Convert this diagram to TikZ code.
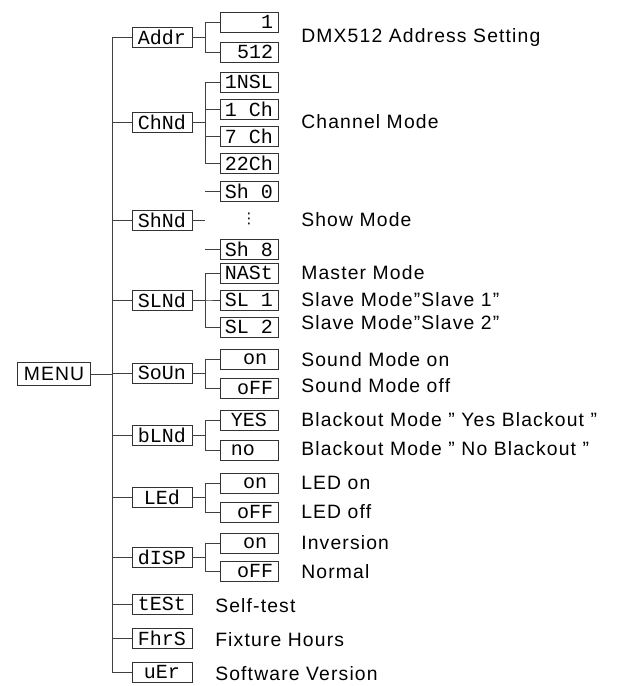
\documentclass[tikz,border=0pt]{standalone}
\usepackage{fontspec}
\setmainfont{Liberation Sans}[LetterSpace=6]
\newfontfamily\lcdfont{Liberation Mono}
\newfontfamily\symfont{DejaVu Sans}
\usepackage{tikz}

\begin{document}
\begin{tikzpicture}[x=0.75pt,y=-0.75pt,
  wire/.style={draw=black!75,line width=0.6pt},
  lcd/.style={draw=black!80,line width=0.6pt,minimum width=45pt,minimum height=15pt,
    inner sep=0pt,font=\lcdfont\fontsize{15}{15}\selectfont},
  sub/.style={lcd,minimum width=43.5pt},
  lbl/.style={anchor=west,inner sep=0pt,font=\fontsize{14.5}{16}\selectfont}]
  \useasboundingbox (0,0) rectangle (621,686);

  \node[draw=black!80,line width=0.6pt,minimum width=55pt,minimum height=17pt,inner sep=0pt,
    font=\fontsize{14.5}{16}\selectfont] (menu) at (54,374) {MENU};
  \coordinate (trunk) at (112,37);

  % main menu entries
  \node[lcd] (addr) at (162,37) {Addr};
  \node[lcd] (chnd) at (162,122) {ChNd};
  \node[lcd] (shnd) at (162,220) {ShNd};
  \node[lcd] (slnd) at (162,300) {SLNd};
  \node[lcd] (soun) at (162,373) {SoUn};
  \node[lcd] (blnd) at (162,435) {bLNd};
  \node[lcd] (led)  at (162,497) {LEd~};
  \node[lcd] (disp) at (162,557) {dISP};
  \node[lcd] (test) at (162,604) {tESt};
  \node[lcd] (fhrs) at (162,638) {FhrS};
  \node[lcd] (uer)  at (162,672) {uEr~};

  % sub entries
  \node[sub] (a1) at (249,22) {~~~1};
  \node[sub] (a2) at (249,52) {~512};
  \node[sub] (c1) at (249,82) {1NSL};
  \node[sub] (c2) at (249,109) {1~Ch};
  \node[sub] (c3) at (249,136) {7~Ch};
  \node[sub] (c4) at (249,163) {22Ch};
  \node[sub] (h0) at (249,191) {Sh~0};
  \node[inner sep=0pt,font=\symfont\fontsize{11}{11}\selectfont] (hdots) at (249,219) {⋮};
  \node[sub] (h8) at (249,249) {Sh~8};
  \node[sub] (m1) at (249,273) {NASt};
  \node[sub] (m2) at (249,300) {SL~1};
  \node[sub] (m3) at (249,327) {SL~2};
  \node[sub] (s1) at (249,359) {~on~};
  \node[sub] (s2) at (249,388) {~oFF};
  \node[sub] (b1) at (249,420) {YES~};
  \node[sub] (b2) at (249,450) {no~~};
  \node[sub] (l1) at (249,483) {~on~};
  \node[sub] (l2) at (249,512) {~oFF};
  \node[sub] (d1) at (249,543) {~on~};
  \node[sub] (d2) at (249,571) {~oFF};

  % connectors
  \draw[wire] (menu) -- (menu -| trunk);
  \draw[wire] (addr.west) -- (trunk) |- (uer.west);
  \foreach \n in {chnd,shnd,slnd,soun,blnd,led,disp,test,fhrs}
    \draw[wire] (\n.west) -- (\n.west -| trunk);
  \foreach \p/\s in {addr/a1,addr/a2,chnd/c1,chnd/c2,chnd/c3,chnd/c4,
      slnd/m1,slnd/m2,slnd/m3,soun/s1,soun/s2,blnd/b1,blnd/b2,
      led/l1,led/l2,disp/d1,disp/d2}
    \draw[wire] (\p.east) -- ++(13,0) |- (\s.west);
  \draw[wire] (shnd.east) -- ++(13,0);
  \draw[wire] (h0.west) -- ++(-15,0);
  \draw[wire] (h8.west) -- ++(-15,0);

  % descriptions
  \node[lbl] (ta) at (301,37) {DMX512 Address Setting};
  \node[lbl] (tc) at (301,122) {Channel Mode};
  \node[lbl] (th) at (301,220) {Show Mode};
  \node[lbl] (tm1) at (301,273) {Master Mode};
  \node[lbl] (tm2) at (301,300) {Slave Mode"Slave 1"};
  \node[lbl] (tm3) at (301,323) {Slave Mode"Slave 2"};
  \node[lbl] (ts1) at (301,360) {Sound Mode on};
  \node[lbl] (ts2) at (301,386) {Sound Mode off};
  \node[lbl] (tb1) at (301,420) {Blackout Mode " Yes Blackout "};
  \node[lbl] (tb2) at (301,449) {Blackout Mode " No Blackout "};
  \node[lbl] (tl1) at (301,483) {LED on};
  \node[lbl] (tl2) at (301,512) {LED off};
  \node[lbl] (td1) at (301,543) {Inversion};
  \node[lbl] (td2) at (301,572) {Normal};
  \node[lbl] (tt) at (215,606) {Self-test};
  \node[lbl] (tf) at (215,640) {Fixture Hours};
  \node[lbl] (tv) at (215,674) {Software Version};
\end{tikzpicture}
\end{document}
